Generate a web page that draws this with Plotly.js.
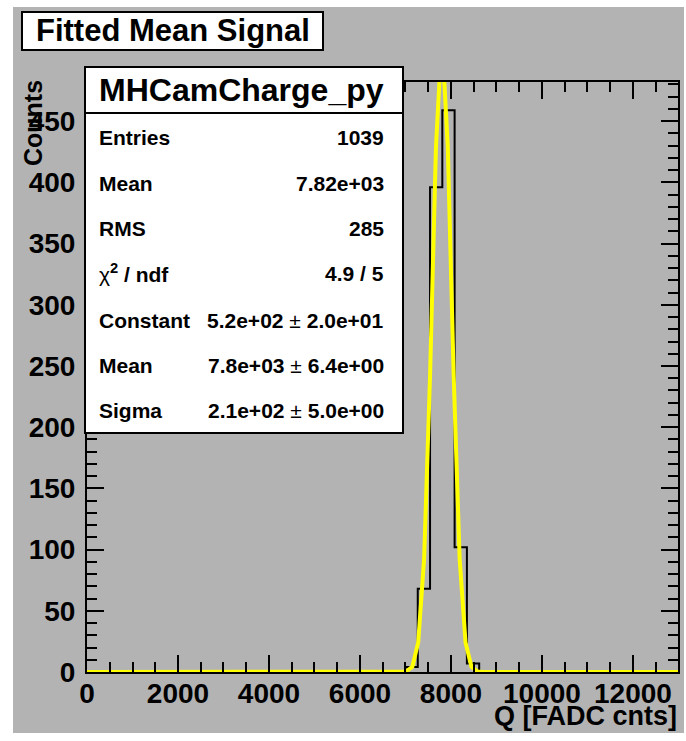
<!DOCTYPE html>
<html>
<head>
<meta charset="utf-8">
<script src="https://cdn.plot.ly/plotly-3.0.1.min.js"></script>
<style>
  html, body { margin: 0; padding: 0; background: #ffffff; }
  #pad { position: absolute; left: 13px; top: 7px; width: 671px; height: 726px; }
</style>
</head>
<body>
<div id="pad"></div>
<script>
// Histogram of the fitted mean signal: bin edges (upper edge of last bin included) and contents
const binEdges  = [7000, 7270, 7540, 7810, 8080, 8350, 8620];
const binCounts = [4, 68, 396, 459, 102, 7];

// Gaussian fit curve, sampled along Q
const fitQ      = [0, 6890, 7020, 7150, 7280, 7410, 7540, 7670, 7800, 7930, 8060, 8190, 8320, 8450, 8580, 8710, 12990];
const fitCounts = [0, 0, 0.5, 4.3, 24.2, 92.7, 241.6, 429, 520, 429, 241.6, 92.7, 24.2, 4.3, 0.5, 0, 0];

// Axis extents
const qRange     = [0, 12990];
const countRange = [0, 482];

// Statistics box
const statsName   = 'MHCamCharge_py';
const statLabels  = ['Entries', 'Mean', 'RMS', '<span style="font-weight:normal">χ</span><sup>2</sup> / ndf', 'Constant', 'Mean', 'Sigma'];
const statValues  = ['1039', '7.82e+03', '285', '4.9 / 5',
                     '5.2e+02<span style="font-weight:normal"> ± </span>2.0e+01',
                     '7.8e+03<span style="font-weight:normal"> ± </span>6.4e+00',
                     '2.1e+02<span style="font-weight:normal"> ± </span>5.0e+00'];

const chartTitle = 'Fitted Mean Signal';
const xTitle = 'Q [FADC cnts]';
const yTitle = 'Counts';

// ---- geometry helpers (page pixels -> paper coordinates) ----
const OFF_X = 13, OFF_Y = 7;
const DIV_W = 671, DIV_H = 726;
const M = { l: 74, r: 6, t: 75, b: 61 };
const plotW = DIV_W - M.l - M.r;
const plotH = DIV_H - M.t - M.b;
const px = x => (x - OFF_X - M.l) / plotW;
const py = y => 1 - (y - OFF_Y - M.t) / plotH;

const FONT = 'Liberation Sans, Arial, Helvetica, sans-serif';
const bold = (size) => ({ family: FONT, size: size, color: '#000000', weight: 700 });

// step outline of the histogram, running along zero outside the filled bins
const histX = [qRange[0]].concat(binEdges, [qRange[1]]);
const histY = [0].concat(binCounts, [0, 0]);

const traces = [
  {
    type: 'scatter', mode: 'lines', x: histX, y: histY,
    line: { shape: 'hv', color: '#000000', width: 2 },
    hoverinfo: 'skip'
  },
  {
    type: 'scatter', mode: 'lines', x: fitQ, y: fitCounts,
    line: { color: '#ffff00', width: 4 },
    hoverinfo: 'skip'
  }
];

const axisCommon = {
  ticks: 'inside', tickwidth: 2, tickcolor: '#000000', ticklen: 17,
  showline: true, linecolor: '#000000', linewidth: 2, mirror: 'ticks',
  showgrid: false, zeroline: false, fixedrange: true,
  tickfont: bold(28)
};

const layout = {
  width: DIV_W, height: DIV_H, autosize: false,
  margin: { l: M.l, r: M.r, t: M.t, b: M.b, pad: 0 },
  paper_bgcolor: '#b3b3b3', plot_bgcolor: '#b3b3b3',
  showlegend: false,
  xaxis: Object.assign({}, axisCommon, {
    range: qRange, tick0: 0, dtick: 2000, tickformat: 'd',
    ticklabelstandoff: -5,
    minor: { dtick: 500, ticks: 'inside', ticklen: 10, tickwidth: 2, tickcolor: '#000000', showgrid: false }
  }),
  yaxis: Object.assign({}, axisCommon, {
    range: countRange, tick0: 0, dtick: 50, tickformat: 'd',
    ticklabelstandoff: 4,
    minor: { dtick: 10, ticks: 'inside', ticklen: 10, tickwidth: 2, tickcolor: '#000000', showgrid: false }
  }),
  shapes: [
    // title box
    { type: 'rect', xref: 'paper', yref: 'paper', layer: 'above',
      x0: px(22), x1: px(323), y0: py(50), y1: py(12),
      fillcolor: '#ffffff', line: { color: '#000000', width: 2 } },
    // statistics box
    { type: 'rect', xref: 'paper', yref: 'paper', layer: 'above',
      x0: px(85), x1: px(403), y0: py(433), y1: py(67),
      fillcolor: '#ffffff', line: { color: '#000000', width: 2 } },
    { type: 'line', xref: 'paper', yref: 'paper', layer: 'above',
      x0: px(85), x1: px(403), y0: py(113), y1: py(113),
      line: { color: '#000000', width: 2 } }
  ],
  annotations: []
};

const ann = layout.annotations;
ann.push({ text: chartTitle, xref: 'paper', yref: 'paper', x: px(172.5), y: py(31),
           xanchor: 'center', yanchor: 'middle', showarrow: false, font: bold(31) });
ann.push({ text: statsName, xref: 'paper', yref: 'paper', x: px(241), y: py(90),
           xanchor: 'center', yanchor: 'middle', showarrow: false, font: bold(32) });

const rowY = [137, 183, 228, 273, 320, 365, 410];
statLabels.forEach((lab, i) => {
  ann.push({ text: lab, xref: 'paper', yref: 'paper', x: px(97), y: py(rowY[i]),
             xanchor: 'left', yanchor: 'middle', showarrow: false, font: bold(21) });
  ann.push({ text: statValues[i], xref: 'paper', yref: 'paper', x: px(386), y: py(rowY[i]),
             xanchor: 'right', yanchor: 'middle', showarrow: false, font: bold(21) });
});

ann.push({ text: xTitle, xref: 'paper', yref: 'paper', x: px(679), y: py(716),
           xanchor: 'right', yanchor: 'middle', showarrow: false, font: bold(27) });
ann.push({ text: yTitle, xref: 'paper', yref: 'paper', x: px(33), y: py(78), textangle: -90,
           xanchor: 'center', yanchor: 'top', showarrow: false, font: bold(25) });

Plotly.newPlot('pad', traces, layout, { staticPlot: true, displayModeBar: false });
</script>
</body>
</html>
